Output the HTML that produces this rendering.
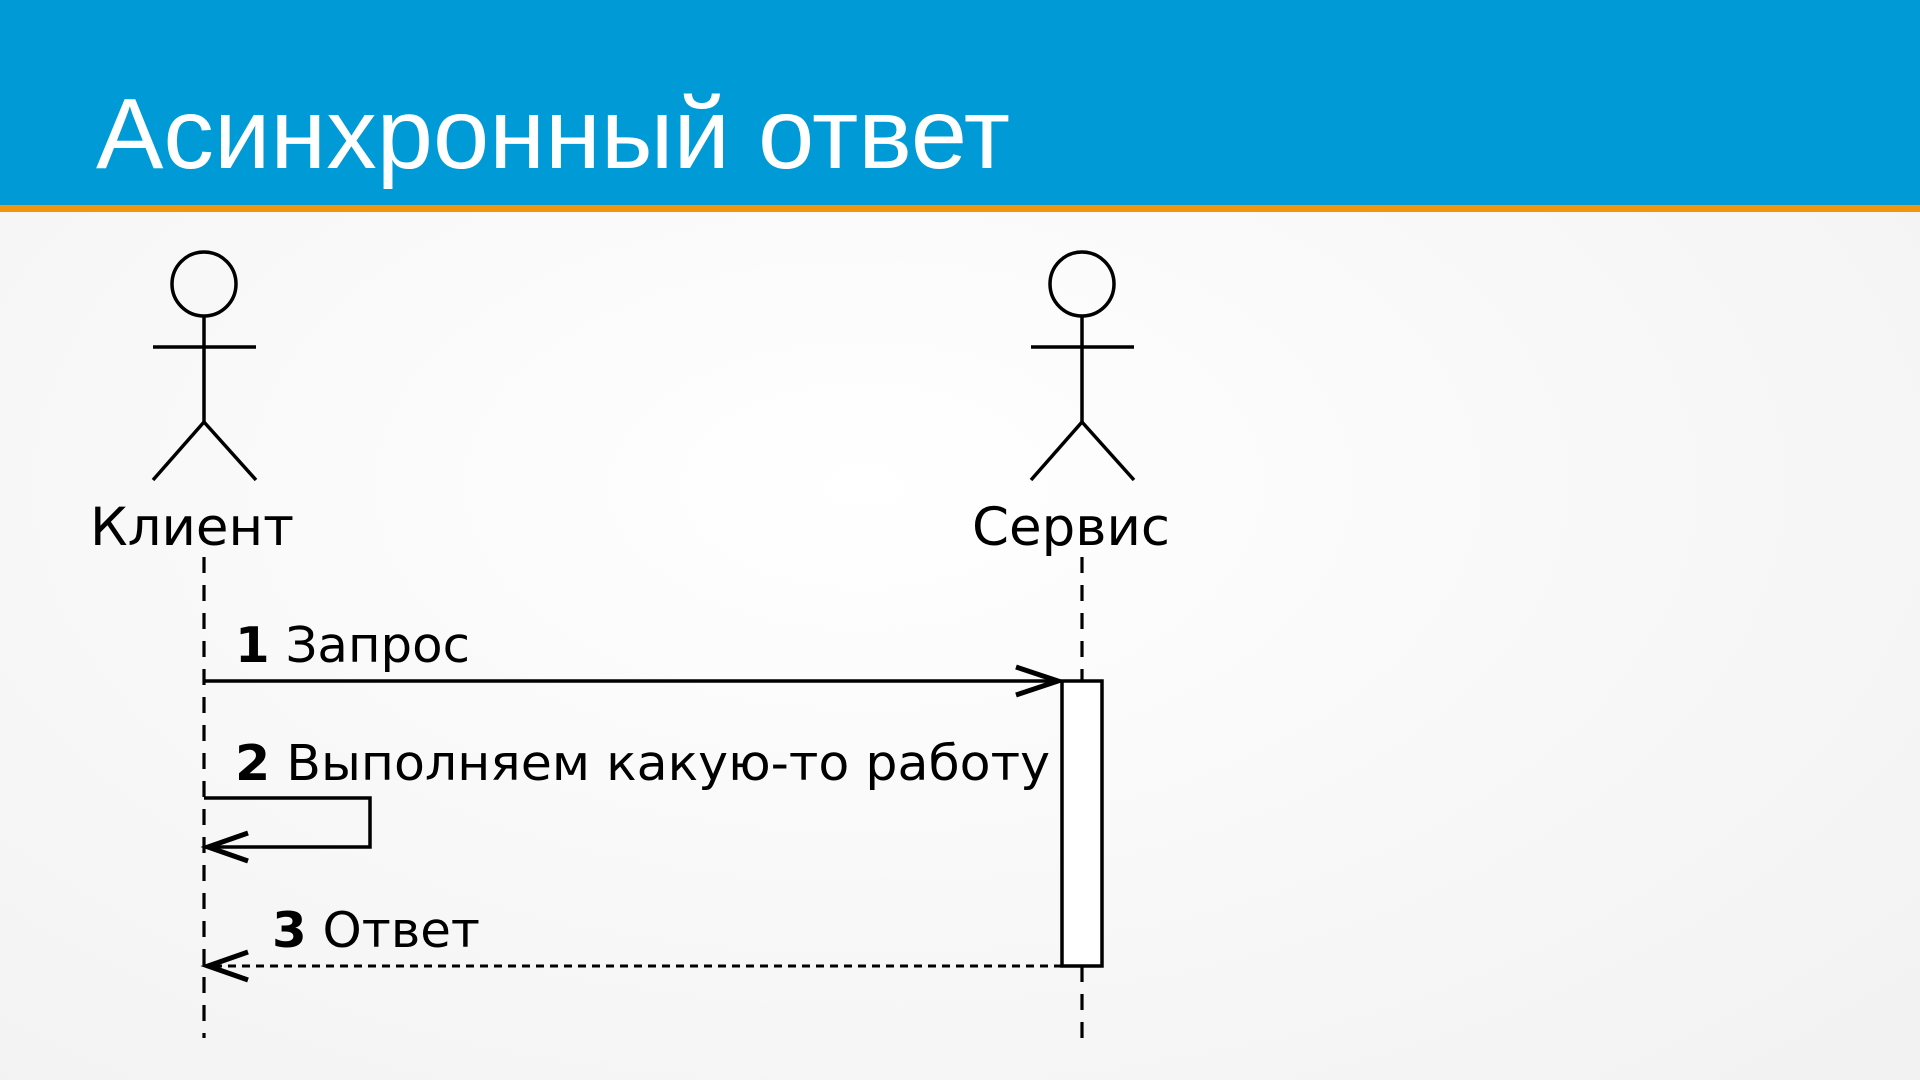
<!DOCTYPE html>
<html><head><meta charset="utf-8"><style>
html,body{margin:0;padding:0;width:1920px;height:1080px;overflow:hidden;background:#f7f7f7}
svg{display:block}
</style></head><body>
<svg width="1920" height="1080" viewBox="0 0 1920 1080" xmlns="http://www.w3.org/2000/svg">
<defs>
<radialGradient id="bg" cx="0.45" cy="0.45" r="0.8">
<stop offset="0" stop-color="#ffffff"/><stop offset="1" stop-color="#f1f1f1"/>
</radialGradient>
</defs>
<rect x="0" y="0" width="1920" height="1080" fill="url(#bg)"/>
<rect x="0" y="0" width="1920" height="206" fill="#009ad7"/>
<rect x="0" y="205" width="1920" height="7" fill="#f0950c"/>
<text x="96" y="168" font-family="Liberation Sans, DejaVu Sans, sans-serif" font-size="100" fill="#fff" textLength="914" lengthAdjust="spacingAndGlyphs">Асинхронный ответ</text>

<g stroke="#000" stroke-width="3.5" fill="none">
<circle cx="204" cy="284" r="32"/>
<line x1="204" y1="316" x2="204" y2="422"/>
<line x1="153" y1="347" x2="256" y2="347"/>
<line x1="204" y1="422" x2="153" y2="480"/>
<line x1="204" y1="422" x2="256" y2="480"/>
<circle cx="1082" cy="284" r="32"/>
<line x1="1082" y1="316" x2="1082" y2="422"/>
<line x1="1031" y1="347" x2="1134" y2="347"/>
<line x1="1082" y1="422" x2="1031" y2="480"/>
<line x1="1082" y1="422" x2="1134" y2="480"/>
</g>
<g stroke="#000" stroke-width="3.2" fill="none" stroke-dasharray="16,12">
<line x1="204" y1="557" x2="204" y2="1038"/>
<line x1="1082" y1="557" x2="1082" y2="681"/>
<line x1="1082" y1="966" x2="1082" y2="1038"/>
</g>
<rect x="1062" y="681" width="40" height="285" fill="#fff" stroke="#000" stroke-width="3.5"/>

<g stroke="#000" stroke-width="3.5" fill="none">
<line x1="204" y1="681" x2="1056" y2="681"/>
<polyline points="1016,667 1058,681 1016,695" stroke-width="5"/>
<polyline points="204,798 370,798 370,847 206,847"/>
<polyline points="248,833 208,847 248,861" stroke-width="5"/>
<line x1="1062" y1="966" x2="210" y2="966" stroke-dasharray="8,6" stroke-width="3"/>
<polyline points="248,952 208,966 248,980" stroke-width="5"/>
</g>

<g font-family="DejaVu Sans, Verdana, sans-serif" fill="#000">
<text x="192" y="545" font-size="53" text-anchor="middle">Клиент</text>
<text x="1071" y="545" font-size="53" text-anchor="middle">Сервис</text>
<text x="235" y="662" font-size="49" textLength="235" lengthAdjust="spacingAndGlyphs"><tspan font-weight="bold">1</tspan> Запрос</text>
<text x="235" y="780" font-size="49" textLength="815" lengthAdjust="spacingAndGlyphs"><tspan font-weight="bold">2</tspan> Выполняем какую-то работу</text>
<text x="272" y="947" font-size="49" textLength="208" lengthAdjust="spacingAndGlyphs"><tspan font-weight="bold">3</tspan> Ответ</text>
</g>
</svg>
</body></html>
